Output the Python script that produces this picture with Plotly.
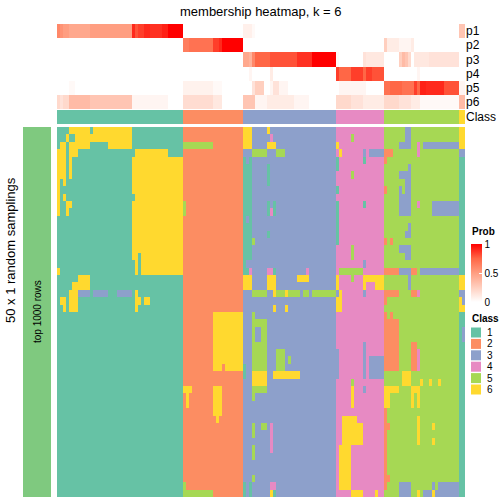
import plotly.graph_objects as go

# ---------------- data ----------------
class_ids = [1, 2, 3, 4, 5, 6]
class_colors = ["#66C2A5", "#FC8D62", "#8DA0CB", "#E78AC3", "#A6D854", "#FFD92F"]
group_sizes = [42, 20, 31, 16, 25, 2]          # number of samples in each predicted class
prob_labels = ["p1", "p2", "p3", "p4", "p5", "p6"]
sampling_group = "top 1000 rows"
n_samplings = 50

# membership probabilities (percent), run-length per class block
p1 = ["60 55 50*2 45*7 50*10 50*4 90 80 85*2 90*2 88*4 92*2 100*5", "0*20", "8*3 3 0*27", "0*16", "0*25", "30*2"]
p2 = ["0*42", "65*2 70*8 85*2 90 100*7", "0*31", "0*16", "25 10*4 5*4 10 0*15", "0*2"]
p3 = ["0*42", "0*20", "45*2 40 60 75*5 80*9 88*5 100*8", "3 0*8 15 12*6", "0*5 25 35 30 20 0 12*5 15*10", "0*2"]
p4 = ["0*42", "0*20", "0*2 5 0*6 10 0*21", "85 75*4 85*4 75 85*2 80*4", "0*11 5 0*13", "0*2"]
p5 = ["0*4 3*2 0*36", "7*10 3*3 0*7", "0*3 15 25*3 0*2 5 15*2 5*3 0*16", "0 5*9 0*6",
      "70*2 75*4 70*4 85 75 92*2 90*6 80*5", "5*2"]
p6 = ["20 15 20*2 35*7 30*10 30*4 5*12 0*5", "18*10 12*3 0*7", "30*4 5*4 10*9 5*5 0*9", "20 20*4 15*4 10*7",
      "20*5 15*4 10*3 3*13", "35*2"]

# class labels for each of 50 random samplings (rows), run-length per class block
samplings = [
    ["1*4 6*7 1 6*13 1*17", "2*20", "6*3 3*5 6 3*22", "4*16", "5*7 3*2 5*16", "6*2"],
    ["1*3 6 1*2 6*19 1*17", "2*20", "6*3 3*6 4 3*21", "4*5 5 4*10", "5*7 3*2 5*16", "6*2"],
    ["1 6*2 1 6*7 1*6 6*8 1*17", "5*10 2*10", "6*3 3*5 6*3 3*20", "6 4*15", "5*5 3*4 5*2 4 5 3*12", "6*2"],
    ["6*3 1 6*3 1*19 6*11 1*5", "2*20", "3*3 5*5 3*3 5*3 3*17", "4 6 4*7 3 4 3*5", "2*3 5*8 4 5*13", "3*2"],
    ["6*3 1 6 1*20 6*17", "2*20", "1 3 1 3*28", "1 4*8 1 4*6", "2 5*24", "1*2"],
    ["6*3 1 6 1*20 6*17", "2*20", "1*3 3*5 1 3*22", "1 4*15", "5*8 3 5*16", "1*2"],
    ["6*3 1 6 1*20 6*17", "2*20", "1*3 3*5 1 3*22", "4*5 5 4*10", "5*5 3*4 5*16", "1*2"],
    ["6 1 6 1*22 6*17", "2*20", "1*3 3*5 1 3*22", "4*16", "5*7 3*2 5*16", "1*2"],
    ["6 1*24 6*17", "2*20", "1*3 3*28", "1 4*15", "2 5*4 3 5 3*2 5*16", "1*2"],
    ["6 1 6 1*23 6*16", "2*20", "1*3 3*28", "4*16", "5*5 3*4 5*16", "1*2"],
    ["6 1*2 6*2 1*20 6*17", "5 2*19", "1*3 3*5 1 3 1 3*20", "1 4*8 1 4*6", "5*5 3*4 5*2 4 5*4 3*9", "1*2"],
    ["6 1*2 6 1*21 6*17", "5 2*19", "1*3 3*5 1 4 1 3*20", "1 4*15", "5*5 3*4 5*7 3*9", "1*2"],
    ["1*25 6*17", "2*20", "1 3 1 3*28", "1 4*15", "5*25", "1*2"],
    ["1*25 6*17", "2*20", "1*3 3*28", "1 4*15", "5*8 3 5*16", "1*2"],
    ["1*25 6*17", "2*20", "1*3 3*5 1 3*22", "1 4*15", "5*7 3*2 5*16", "1*2"],
    ["1*25 6*17", "2*20", "1*3 5 3*27", "1 4*15", "2 5 2 5*22", "1*2"],
    ["1*25 6*17", "2*20", "1*3 3*28", "4*5 5 4*10", "5*5 3*4 5*16", "1*2"],
    ["1*25 6*2 1 6*14", "2*20", "1*3 3*28", "4*5 5 4*10", "5*7 3*2 5*16", "1*2"],
    ["1*26 6 1 6*14", "2*20", "1 3*30", "4*9 3 4*6", "5*25", "1*2"],
    ["6 1*25 6 1 6*14", "2*20", "1*2 4 3*5 4*2 1 3*10 4 3*9", "4 5*8 4*7", "2*5 3*4 2*2 5 3*13", "1*2"],
    ["1*7 6*4 1*31", "2*20", "6*3 3*5 6*3 3*7 6*4 3*9", "6 4*4 5 4*3 6*7", "5*8 3 5*16", "6*2"],
    ["1*5 6*6 1*31", "2*20", "6*3 3*5 6*3 3*20", "6 4*8 6 4*3 6*3", "5*8 3 5*16", "6*2"],
    ["1*4 6*3 3*4 1 3*5 1*3 3*5 1 6 1*15", "2*20", "3*3 5*5 3*2 6 5*3 6 5*4 3 5*2 3 5*8", "3 6 4*7 3 4*6",
     "2*5 5*4 2*2 4 5*13", "3*2"],
    ["1 6*2 1 6*3 1*19 6*2 1 6*2 1*11", "2*20", "3*31", "6*2 4*14", "2 5*24", "6 3"],
    ["1*2 6 1 6*3 1*19 6 1*15", "2*20", "3*10 6 3*3 6 3*16", "6*2 4*14", "5*25", "6*2"],
    ["1*42", "2*10 6*10", "3*3 5 3*27", "4*16", "2 5 2 5*22", "1*2"],
    ["1*42", "2*10 6*10", "3*3 5*5 3*23", "4*16", "2*5 5*20", "1*2"],
    ["1*42", "2*10 6*10", "3*3 5 3*2 5*2 3*23", "4*16", "2*5 5*20", "1 3"],
    ["1*42", "2*10 6*10", "3*3 5 3*2 5*2 3*23", "4*16", "2*5 5*20", "1 3"],
    ["1*42", "2*10 6*10", "3*3 5*5 3*23", "4*9 3 4*6", "2*5 5*4 2*2 5*14", "1*2"],
    ["1*42", "2*10 6*10", "3*3 5*5 3*3 5*3 3*17", "3 4*8 3 4*6", "2*5 5*4 2*2 4 5*13", "1*2"],
    ["1*42", "2*10 6*10", "3*3 5*5 3*3 5*3 3 5 3*15", "3 4*8 3 4 3*5", "2*5 5*4 2*2 4 5*13", "1*2"],
    ["1*42", "2*10 6*3 2 6*6", "1 3*2 5*5 3*3 5*3 3*17", "3 4*8 3 4 3*5", "2*5 5*4 2*2 4 5*13", "1*2"],
    ["1*42", "2*20", "1 3*2 6*5 3*2 6*9 3*12", "3 4*8 3 4 3*5", "5*6 6*3 5*16", "1*2"],
    ["1*42", "2*20", "3*3 6*5 3*23", "4*5 5 4*10", "5*6 6*3 5*3 6 5*2 6 5*2 6 5*6", "1*2"],
    ["1*42", "6*3 2*7 6*3 2*7", "3*3 5*5 3*23", "4*5 6 4*3 3 4*6", "6*5 5*4 6*3 5*13", "1*2"],
    ["1*42", "2 6 2*8 6*3 2*7", "3*3 5 3*27", "4*5 6 4*10", "6*2 5*7 6 5 6 5*13", "1*2"],
    ["1*42", "2 6 2*8 6*3 2*7", "3*31", "4*5 6 4*10", "6*2 5*7 6 5 6 5*13", "1*2"],
    ["1*42", "2*10 6*3 2*7", "3*31", "4*16", "2 5*24", "1*2"],
    ["1*42", "2*11 6 2*8", "3*31", "4*2 6*5 4*9", "2 5*10 6 5*13", "1*2"],
    ["1*42", "2*20", "3*3 5 3*2 5*2 3 4 3*21", "4*2 6*7 4*7", "2*2 5*9 6 5*4 6 5*8", "1*2"],
    ["1*42", "2*20", "3*3 5 3*5 4 3*21", "4*2 6*7 4*7", "2 5*10 6 5*13", "1*2"],
    ["1*42", "2*20", "3*9 4 3*21", "4*2 6*7 4*7", "2 5*10 6 5*4 6 5*8", "1*2"],
    ["1*42", "2*20", "3*3 5 3*5 4 3*21", "4 6*4 4*11", "2 5*24", "1*2"],
    ["1*42", "2*20", "3*3 5 3*27", "4 6*4 4*11", "2 5*24", "1*2"],
    ["1*42", "2*20", "3*31", "4 6*4 4*11", "2 5*24", "1*2"],
    ["1*42", "2*20", "3*31", "4 6*4 4*11", "2 5*24", "1*2"],
    ["1*42", "2*20", "3*3 5 3*27", "4 6*4 4*11", "2*2 5*23", "1*2"],
    ["1*42", "5 2*19", "1 3 1 3*6 4*2 3*20", "4 6*4 4*11", "2 5*4 3*4 5*7 3 5 3*7", "1*2"],
    ["1*42", "5*10 2*10", "1 3 1 3*6 6 1 3*20", "4*5 6*4 4*4 6 4*2", "5*5 3*4 5*2 6 5 3*3 6 3*8", "1*2"],
]


# ---------------- helpers ----------------
def rle(s):
    out = []
    for tok in s.split():
        if "*" in tok:
            v, n = tok.split("*")
            out += [int(v)] * int(n)
        else:
            out.append(int(tok))
    return out


def fit(lst, n):
    if len(lst) < n:
        lst = lst + [lst[-1]] * (n - len(lst))
    return lst[:n]


def expand(segs):
    row = []
    for seg, n in zip(segs, group_sizes):
        row += fit(rle(seg), n)
    return row


n_cols = sum(group_sizes)
cols = list(range(n_cols))
class_row = []
for cid, n in zip(class_ids, group_sizes):
    class_row += [cid] * n

prob_z = [[v / 100 for v in expand(p)] for p in [p1, p2, p3, p4, p5, p6]]
main_z = [expand(r) for r in samplings]

# ---------------- figure ----------------
W = H = 504
FONT = "Liberation Sans, Arial, Helvetica, sans-serif"


def px(x):
    return x / W


def py(y):
    return 1 - y / H


disc = []
for i, c in enumerate(class_colors):
    disc.append([i / 6, c])
    disc.append([(i + 1) / 6, c])

prob_scale = [[0, "#FFFFFF"], [0.25, "rgb(255,207,191)"], [0.5, "rgb(255,158,129)"],
              [0.75, "rgb(255,103,70)"], [1, "#FF0000"]]

fig = go.Figure()
fig.add_trace(go.Heatmap(
    z=prob_z, x=cols, y=list(range(len(prob_labels))), xaxis="x", yaxis="y2",
    colorscale=prob_scale, zmin=0, zmax=1, hoverinfo="skip",
    colorbar=dict(x=px(471), xanchor="left", xpad=0, y=py(244), yanchor="top", ypad=0,
                  len=58, lenmode="pixels", thickness=11, thicknessmode="pixels",
                  outlinewidth=0, tickvals=[0, 0.5, 1], ticktext=["0", "0.5", "1"],
                  ticks="inside", ticklen=3, tickcolor="white",
                  tickfont=dict(size=10, family=FONT, color="black")),
))
fig.add_trace(go.Heatmap(
    z=[class_row], x=cols, y=[0], xaxis="x", yaxis="y3",
    colorscale=disc, zmin=0.5, zmax=6.5, showscale=False, hoverinfo="skip",
))
fig.add_trace(go.Heatmap(
    z=main_z, x=cols, y=list(range(n_samplings)), xaxis="x", yaxis="y",
    colorscale=disc, zmin=0.5, zmax=6.5, showscale=False, hoverinfo="skip",
))
fig.add_trace(go.Heatmap(
    z=[[1] for _ in range(n_samplings)], x=[0], y=list(range(n_samplings)), xaxis="x2", yaxis="y4",
    colorscale=[[0, "#7FC97F"], [1, "#7FC97F"]], showscale=False, hoverinfo="skip",
))

hidden = dict(visible=False, showgrid=False, zeroline=False)
fig.update_layout(
    width=W, height=H, margin=dict(l=0, r=0, t=0, b=0),
    paper_bgcolor="white", plot_bgcolor="white",
    font=dict(family=FONT, color="black"),
    xaxis=dict(domain=[px(57), px(465)], range=[-0.5, n_cols - 0.5], anchor="y", **hidden),
    yaxis=dict(domain=[py(497), py(127)], range=[n_samplings - 0.5, -0.5], anchor="x", **hidden),
    yaxis2=dict(domain=[py(109), py(24)], range=[5.5, -0.5], anchor="x", side="right",
                tickvals=list(range(6)), ticktext=prob_labels, ticks="", showgrid=False,
                zeroline=False, showline=False, tickfont=dict(size=12, family=FONT)),
    yaxis3=dict(domain=[py(124), py(110)], range=[0.5, -0.5], anchor="x", side="right",
                tickvals=[0], ticktext=["Class"], ticks="", showgrid=False,
                zeroline=False, showline=False, tickfont=dict(size=12, family=FONT)),
    xaxis2=dict(domain=[px(23), px(51)], range=[-0.5, 0.5], anchor="y4", **hidden),
    yaxis4=dict(domain=[py(497), py(127)], range=[n_samplings - 0.5, -0.5], anchor="x2", **hidden),
)

ann = [
    dict(text="membership heatmap, k = 6", x=px(261), y=py(11), font=dict(size=13)),
    dict(text=f"{n_samplings} x 1 random samplings", x=px(10), y=py(250), textangle=-90, font=dict(size=13)),
    dict(text=sampling_group, x=px(37), y=py(312), textangle=-90, font=dict(size=10)),
    dict(text="<b>Prob</b>", x=px(470), y=py(232), xanchor="left", font=dict(size=10)),
    dict(text="<b>Class</b>", x=px(470), y=py(318), xanchor="left", font=dict(size=10)),
]
shapes = []
for i, (cid, col) in enumerate(zip(class_ids, class_colors)):
    yc = 332.5 + 11.4 * i
    shapes.append(dict(type="rect", xref="paper", yref="paper", x0=px(471), x1=px(481),
                       y0=py(yc + 5), y1=py(yc - 5), fillcolor=col, line=dict(width=0)))
    ann.append(dict(text=str(cid), x=px(485), y=py(yc), xanchor="left", font=dict(size=10)))

for a in ann:
    a.setdefault("xref", "paper")
    a.setdefault("yref", "paper")
    a.setdefault("showarrow", False)
    a.setdefault("xanchor", "center")
    a.setdefault("yanchor", "middle")
fig.update_layout(annotations=ann, shapes=shapes)

fig.write_html("out.html", config={"displayModeBar": False},
               post_script="document.body.style.margin='0';document.body.style.overflow='hidden';")
